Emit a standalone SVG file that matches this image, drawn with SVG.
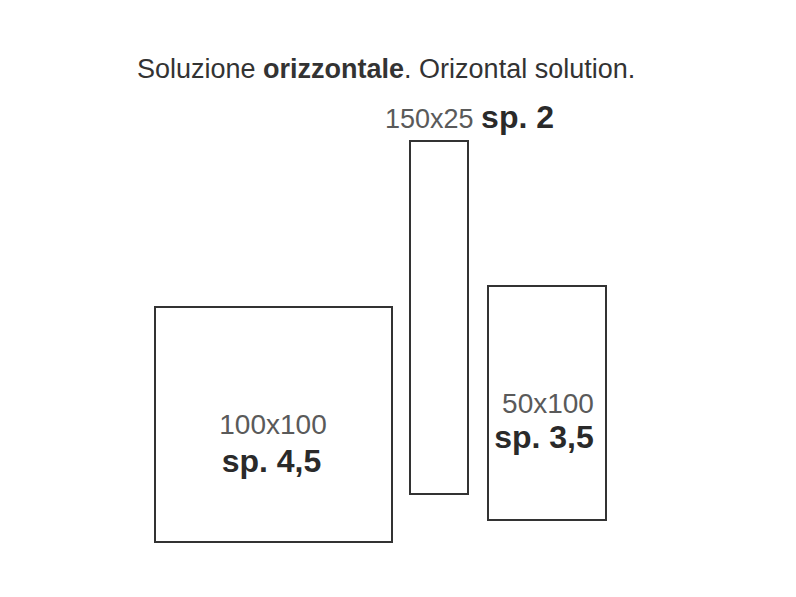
<svg xmlns="http://www.w3.org/2000/svg" width="796" height="597" viewBox="0 0 796 597">
<style>
.t{font-family:"Liberation Sans",Arial,Helvetica,sans-serif;fill:#333}
.l{font-weight:400;fill:#5a5a5a}
.b{font-weight:700;fill:#2a2a2a}
.box{fill:#fff;stroke:#333;stroke-width:2}
</style>
<rect width="796" height="597" fill="#fff"/>
<text class="t" x="137" y="78" font-size="27" fill="#222">Soluzione <tspan font-weight="700">orizzontale</tspan>. Orizontal solution.</text>
<g id="tile-150x25">
<rect class="box" x="410" y="141" width="58" height="353"/>
<text class="t" x="385" y="128" font-size="27"><tspan class="l">150x25</tspan> <tspan class="b" font-size="32">sp. 2</tspan></text>
</g>
<g id="tile-100x100">
<rect class="box" x="155" y="307" width="237" height="235"/>
<text class="t l" x="273" y="434" font-size="28" text-anchor="middle">100x100</text>
<text class="t b" x="271.5" y="472" font-size="32" text-anchor="middle">sp. 4,5</text>
</g>
<g id="tile-50x100">
<rect class="box" x="488" y="286" width="118" height="234"/>
<text class="t l" x="548" y="413" font-size="28" text-anchor="middle">50x100</text>
<text class="t b" x="544" y="448" font-size="32" text-anchor="middle">sp. 3,5</text>
</g>
</svg>
